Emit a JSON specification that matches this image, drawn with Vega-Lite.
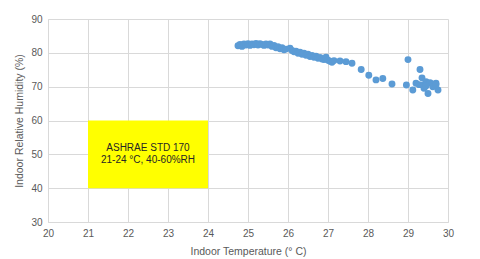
{
  "$schema": "https://vega.github.io/schema/vega-lite/v6.json",
  "width": 400,
  "height": 203,
  "autosize": {"type": "none"},
  "padding": {"left": 48, "top": 19, "right": 32, "bottom": 37},
  "background": "white",
  "config": {
    "view": {"stroke": null},
    "font": "Liberation Sans",
    "axis": {
      "gridColor": "#d9d9d9",
      "domainColor": "#d9d9d9",
      "tickColor": "#d9d9d9",
      "labelColor": "#595959",
      "titleColor": "#595959",
      "labelFontSize": 10,
      "titleFontSize": 10.5,
      "titleFontWeight": "normal",
      "tickSize": 0,
      "labelPadding": 6,
      "labelOverlap": false,
      "labelFlush": false
    }
  },
  "datasets": {
    "pts": [
      {"t": 24.75, "rh": 82.1}, {"t": 24.8, "rh": 82.5}, {"t": 24.85, "rh": 81.9}, {"t": 24.9, "rh": 82.6},
      {"t": 24.95, "rh": 82.3}, {"t": 25.0, "rh": 82.7}, {"t": 25.05, "rh": 82.2}, {"t": 25.1, "rh": 82.6},
      {"t": 25.15, "rh": 82.4}, {"t": 25.2, "rh": 82.8}, {"t": 25.25, "rh": 82.3}, {"t": 25.3, "rh": 82.7},
      {"t": 25.35, "rh": 82.5}, {"t": 25.4, "rh": 82.2}, {"t": 25.45, "rh": 82.6}, {"t": 25.5, "rh": 82.3},
      {"t": 25.55, "rh": 82.6}, {"t": 25.6, "rh": 81.9}, {"t": 25.65, "rh": 82.2}, {"t": 25.7, "rh": 81.5},
      {"t": 25.75, "rh": 81.8}, {"t": 25.8, "rh": 81.2}, {"t": 25.85, "rh": 81.5}, {"t": 25.9, "rh": 80.9},
      {"t": 25.95, "rh": 81.1}, {"t": 26.05, "rh": 81.4}, {"t": 26.1, "rh": 80.7}, {"t": 26.15, "rh": 80.3},
      {"t": 26.2, "rh": 80.5}, {"t": 26.25, "rh": 79.9}, {"t": 26.3, "rh": 80.2}, {"t": 26.35, "rh": 79.6},
      {"t": 26.4, "rh": 79.9}, {"t": 26.45, "rh": 79.3}, {"t": 26.5, "rh": 79.6}, {"t": 26.55, "rh": 78.9},
      {"t": 26.6, "rh": 79.2}, {"t": 26.65, "rh": 78.7}, {"t": 26.7, "rh": 79.0}, {"t": 26.75, "rh": 78.4},
      {"t": 26.8, "rh": 78.6}, {"t": 26.85, "rh": 78.2}, {"t": 26.9, "rh": 78.0}, {"t": 26.95, "rh": 78.7},
      {"t": 27.0, "rh": 77.8}, {"t": 27.05, "rh": 77.5}, {"t": 27.1, "rh": 77.2}, {"t": 27.15, "rh": 77.7},
      {"t": 27.3, "rh": 77.6}, {"t": 27.45, "rh": 77.4}, {"t": 27.6, "rh": 76.9}, {"t": 27.83, "rh": 75.1},
      {"t": 28.02, "rh": 73.4}, {"t": 28.2, "rh": 72.0}, {"t": 28.37, "rh": 72.4}, {"t": 28.6, "rh": 70.8},
      {"t": 29.0, "rh": 78.0}, {"t": 28.96, "rh": 70.5}, {"t": 29.12, "rh": 69.0}, {"t": 29.2, "rh": 71.0},
      {"t": 29.3, "rh": 75.1}, {"t": 29.35, "rh": 72.6}, {"t": 29.37, "rh": 70.5}, {"t": 29.45, "rh": 71.5},
      {"t": 29.5, "rh": 68.0}, {"t": 29.55, "rh": 71.2}, {"t": 29.6, "rh": 70.8}, {"t": 29.7, "rh": 71.0},
      {"t": 29.75, "rh": 69.0}, {"t": 29.4, "rh": 69.5}, {"t": 29.28, "rh": 70.6}, {"t": 29.62, "rh": 70.0},
      {"t": 29.45, "rh": 70.2}, {"t": 29.7, "rh": 70.6}
    ],
    "box": [{"t": 21, "t2": 24, "rh": 40, "rh2": 60}],
    "label": [
      {"t": 22.5, "rh": 51.8, "txt": "ASHRAE STD 170"},
      {"t": 22.5, "rh": 48.2, "txt": "21-24 °C, 40-60%RH"}
    ]
  },
  "encoding": {
    "x": {"field": "t", "type": "quantitative", "scale": {"domain": [20, 30], "nice": false, "zero": false},
      "axis": {"title": "Indoor Temperature (° C)", "values": [20,21,22,23,24,25,26,27,28,29,30], "titlePadding": 8}},
    "y": {"field": "rh", "type": "quantitative", "scale": {"domain": [30, 90], "nice": false, "zero": false},
      "axis": {"title": "Indoor Relative Humidity (%)", "values": [30,40,50,60,70,80,90], "titlePadding": 6}}
  },
  "layer": [
    {
      "data": {"name": "box"},
      "mark": {"type": "rect", "color": "#ffff00"},
      "encoding": {
        "x2": {"field": "t2"},
        "y2": {"field": "rh2"}
      }
    },
    {
      "data": {"name": "label"},
      "mark": {"type": "text", "fontSize": 10, "color": "#262626"},
      "encoding": {
        "text": {"field": "txt"}
      }
    },
    {
      "data": {"name": "pts"},
      "mark": {"type": "circle", "size": 48, "color": "#5b9bd5", "opacity": 1}
    }
  ]
}
